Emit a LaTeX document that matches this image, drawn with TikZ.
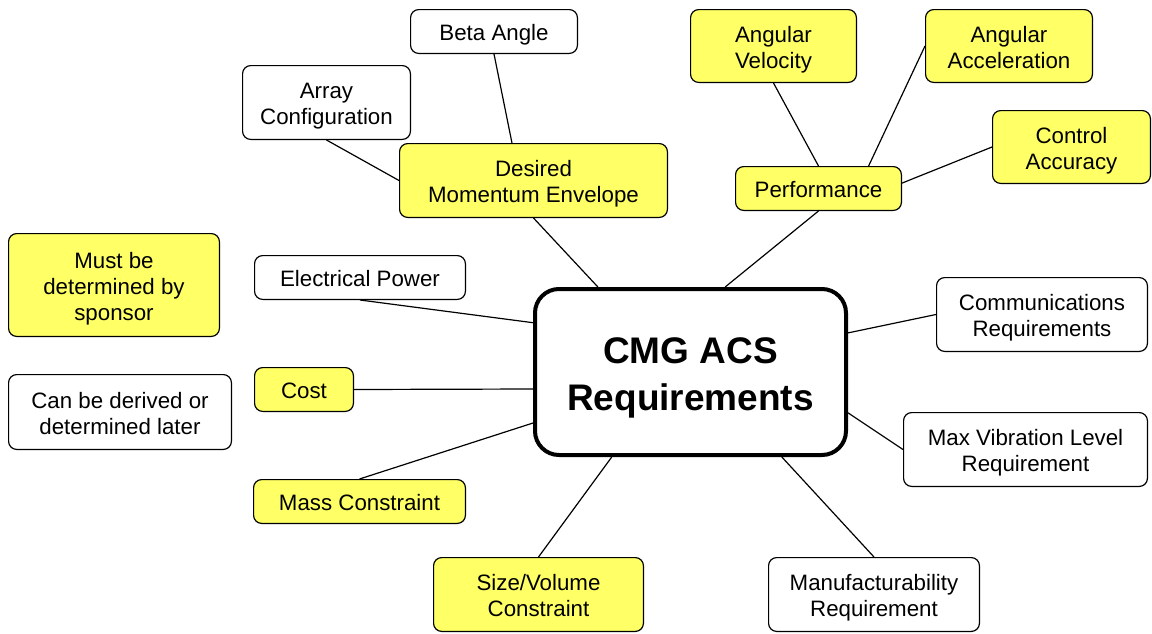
\documentclass[tikz,border=0pt]{standalone}
\usepackage{fontspec}
\setmainfont{Liberation Sans}
\usetikzlibrary{calc}
\definecolor{boxyellow}{RGB}{255,255,102}
\newcommand{\topstrut}{\rule{0pt}{1.06em}}
\newcommand{\hubtopstrut}{\rule{0pt}{1.01em}}
\newcommand{\botstrut}{\rule[-0.212em]{0pt}{0pt}}
\tikzset{
  box/.style={draw=black, line width=0.6pt, rounded corners=4pt, fill=white,
    inner sep=0pt, align=center, font=\fontsize{11.15}{13}\selectfont, text=black},
  ybox/.style={box, fill=boxyellow},
  hub/.style={draw=black, line width=2pt, rounded corners=12pt, fill=white,
    inner sep=0pt, align=center, font=\fontsize{18.5}{23.5}\selectfont\bfseries,
    minimum width=155.5pt, minimum height=83pt},
  link/.style={draw=black, line width=0.6pt}
}
\begin{document}
\begin{tikzpicture}[x=0.5pt, y=-0.5pt]
\useasboundingbox (0,0) rectangle (1152,633);
\node[hub] (hub) at (690.5,372) {\hubtopstrut CMG ACS\\Requirements\botstrut};
\node[box, minimum width=83.4pt, minimum height=21.9pt] (beta) at (494,31.5) {\topstrut Beta Angle\botstrut};
\node[box, minimum width=83.9pt, minimum height=36.9pt] (array) at (326.5,102.5) {\topstrut Array\\Configuration\botstrut};
\node[ybox, minimum width=133.9pt, minimum height=36.9pt] (desired) at (533.5,180.5) {\topstrut Desired\\Momentum Envelope\botstrut};
\node[ybox, minimum width=82.9pt, minimum height=36.4pt] (angvel) at (773.5,46) {\topstrut Angular\\Velocity\botstrut};
\node[ybox, minimum width=83.4pt, minimum height=36.4pt] (angacc) at (1009,46) {\topstrut Angular\\Acceleration\botstrut};
\node[ybox, minimum width=78.9pt, minimum height=36.4pt] (control) at (1071.5,147) {\topstrut Control\\Accuracy\botstrut};
\node[ybox, minimum width=82.9pt, minimum height=21.9pt] (perf) at (818.5,188.5) {\topstrut Performance\botstrut};
\node[ybox, minimum width=105.4pt, minimum height=51.4pt] (sponsor) at (114,285) {\topstrut Must be\\determined by\\sponsor\botstrut};
\node[box, minimum width=105.4pt, minimum height=21.9pt] (elec) at (360,277.5) {\topstrut Electrical Power\botstrut};
\node[ybox, minimum width=49.4pt, minimum height=21.9pt] (cost) at (304,389.5) {\topstrut Cost\botstrut};
\node[box, minimum width=111.4pt, minimum height=37.4pt] (derived) at (120,412) {\topstrut Can be derived or\\determined later\botstrut};
\node[box, minimum width=105.4pt, minimum height=36.9pt] (comm) at (1042,314.5) {\topstrut Communications\\Requirements\botstrut};
\node[box, minimum width=121.9pt, minimum height=36.9pt] (maxvib) at (1025.5,449.5) {\topstrut Max Vibration Level\\Requirement\botstrut};
\node[ybox, minimum width=105.9pt, minimum height=21.9pt] (mass) at (359.5,501.5) {\topstrut Mass Constraint\botstrut};
\node[ybox, minimum width=104.9pt, minimum height=36.9pt] (size) at (538.5,594.5) {\topstrut Size/Volume\\Constraint\botstrut};
\node[box, minimum width=105.4pt, minimum height=36.9pt] (manuf) at (874,594.5) {\topstrut Manufacturability\\Requirement\botstrut};
\path[link] (beta.south) -- ($(desired.north west)!0.42!(desired.north east)$);
\path[link] (array.south) -- (desired.west);
\path[link] (desired.south) -- ($(hub.north west)!0.206!(hub.north east)$);
\path[link] (perf.south) -- ($(hub.north west)!0.61!(hub.north east)$);
\path[link] (angvel.south) -- (perf.north);
\path[link] (angacc.west) -- ($(perf.north west)!0.80!(perf.north east)$);
\path[link] (control.west) -- ($(perf.north east)!0.38!(perf.south east)$);
\path[link] (elec.south) -- ($(hub.north west)!0.21!(hub.south west)$);
\path[link] (cost.east) -- ($(hub.north west)!0.60!(hub.south west)$);
\path[link] (mass.north) -- ($(hub.north west)!0.80!(hub.south west)$);
\path[link] (size.north) -- ($(hub.south west)!0.25!(hub.south east)$);
\path[link] (manuf.north) -- ($(hub.south west)!0.79!(hub.south east)$);
\path[link] (maxvib.west) -- ($(hub.north east)!0.74!(hub.south east)$);
\path[link] (comm.west) -- ($(hub.north east)!0.27!(hub.south east)$);
\end{tikzpicture}
\end{document}
